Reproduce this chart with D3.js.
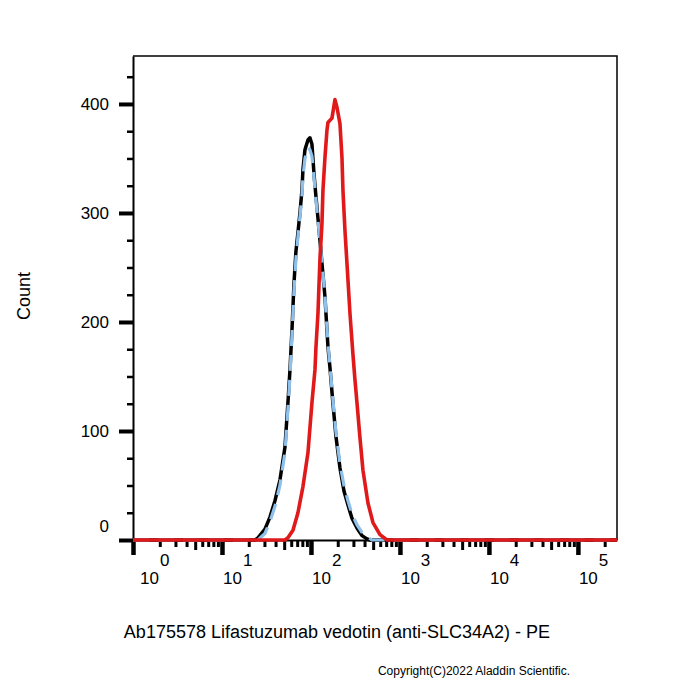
<!DOCTYPE html>
<html>
<head>
<meta charset="utf-8">
<script src="https://cdnjs.cloudflare.com/ajax/libs/d3/7.8.5/d3.min.js"></script>
<style>
  body { margin: 0; background: #fff; }
  text { font-family: "Liberation Sans", Arial, sans-serif; fill: #000; }
</style>
</head>
<body>
<script>
// histogram data: fluorescence intensity (PE) vs count
var blackX = [1, 23.5, 25.4, 30.4, 34.6, 39.4, 44.8, 51.0, 55.1, 58.1, 61.2, 64.4, 67.8, 71.4, 75.2, 79.2, 81.3, 85.6, 92.5, 97.4,
              102.6, 108.1, 113.8, 119.9, 126.2, 132.9, 143.7, 155.3, 163.5, 176.7, 190.9, 211.8, 234.9, 260.5, 288.9, 328.8, 374.2, 425.9, 460.3, 275000];
var blackY = [0, 0, 2, 10, 21, 36, 55, 85, 126, 156, 193, 235, 265, 282, 300, 321, 340, 358, 367, 369,
              363, 336, 315, 295, 275, 254, 223, 177, 158, 125, 95, 66, 45, 32, 20, 11, 4, 1, 0, 0];

var blueX = [1, 25.4, 30.4, 34.6, 39.4, 44.8, 51.0, 55.1, 58.1, 61.2, 64.4, 67.8, 71.4, 75.2, 79.2, 81.3, 85.6, 92.5, 97.4,
             102.6, 108.1, 113.8, 119.9, 126.2, 132.9, 143.7, 155.3, 163.5, 176.7, 190.9, 211.8, 234.9, 260.5, 288.9, 328.8, 374.2, 425.9, 484.6, 275000];
var blueY = [0, 0, 6, 17, 31, 50, 80, 120, 150, 188, 228, 258, 278, 296, 316, 333, 350, 360, 358,
             352, 333, 312, 293, 274, 254, 224, 180, 160, 128, 99, 70, 50, 36, 24, 14, 7, 3, 0, 0];

var redX = [1, 51.0, 55.1, 62.8, 71.4, 81.3, 92.5, 102.6, 110.9, 113.8, 119.9, 126.2, 132.9, 136.4, 143.7, 151.3, 155.3, 172.2, 186.1, 196.0,
            211.8, 223.0, 228.8, 241.0, 253.8, 274.3, 296.5, 312.2, 328.8, 355.3, 384.1, 436.9, 497.4, 596.3, 714.5, 275000];
var redY = [0, 0, 2, 9, 25, 49, 80, 126, 156, 177, 208, 258, 290, 321, 351, 376, 383, 387, 404, 397,
            382, 351, 321, 284, 254, 208, 170, 147, 126, 94, 64, 34, 16, 5, 0, 0];

var yMajor = [0, 100, 200, 300, 400];
var decades = [1, 10, 100, 1000, 10000, 100000];
var decadeExp = ["0", "1", "2", "3", "4", "5"];

var title = "Ab175578 Lifastuzumab vedotin (anti-SLC34A2) - PE";
var copyright = "Copyright(C)2022 Aladdin Scientific.";

var margin = {top: 56, left: 133},
    width = 484,
    height = 484;

var svg = d3.select("body").append("svg")
    .attr("width", 700)
    .attr("height", 700);

var g = svg.append("g")
    .attr("transform", "translate(" + margin.left + "," + margin.top + ")");

var x = d3.scaleLog()
    .domain([1, 275000])
    .range([0, width]);

var y = d3.scaleLinear()
    .domain([0, 444])
    .range([height, 0]);

// minor tick values
var yMinor = d3.range(25, 444, 25).filter(function (d) { return d % 100 !== 0; });
var xMinor = [], xMid = [];
decades.forEach(function (dec) {
  [2, 3, 4, 6, 7, 8, 9].forEach(function (m) { if (dec * m <= 275000) xMinor.push(dec * m); });
  if (dec * 5 <= 275000) xMid.push(dec * 5);
});

// frame (top and right)
g.append("path")
    .attr("d", "M0,0H" + width + "V" + height)
    .attr("fill", "none")
    .attr("stroke", "#000")
    .attr("stroke-width", 1.5);

// y axis
var yAx = g.append("g")
    .call(d3.axisLeft(y).tickValues(yMajor).tickSize(14).tickSizeOuter(0).tickPadding(10));
yAx.select(".domain").attr("stroke-width", 2);
yAx.selectAll(".tick line").attr("stroke-width", 4);
yAx.selectAll(".tick text")
    .style("font-size", "17px")
    .attr("dy", function (d) { return d === 0 ? "-0.5em" : "0.34em"; });

g.append("g")
    .call(d3.axisLeft(y).tickValues(yMinor).tickSize(6).tickSizeOuter(0).tickFormat(""))
    .call(function (s) { s.select(".domain").remove(); })
    .selectAll(".tick line").attr("stroke-width", 2.5);

// x axis
var xAx = g.append("g")
    .attr("transform", "translate(0," + height + ")")
    .call(d3.axisBottom(x).tickValues(decades).tickSize(15).tickSizeOuter(0).tickFormat(""));
xAx.select(".domain").attr("stroke-width", 2);
xAx.selectAll(".tick line").attr("stroke-width", 4.5);

g.append("g")
    .attr("transform", "translate(0," + height + ")")
    .call(d3.axisBottom(x).tickValues(xMinor).tickSize(7).tickSizeOuter(0).tickFormat(""))
    .call(function (s) { s.select(".domain").remove(); })
    .selectAll(".tick line").attr("stroke-width", 3);

g.append("g")
    .attr("transform", "translate(0," + height + ")")
    .call(d3.axisBottom(x).tickValues(xMid).tickSize(10).tickSizeOuter(0).tickFormat(""))
    .call(function (s) { s.select(".domain").remove(); })
    .selectAll(".tick line").attr("stroke-width", 3);

// decade labels 10^n
var lab = g.selectAll(".xlab")
    .data(decades)
    .enter().append("text")
    .attr("class", "xlab")
    .attr("x", function (d, i) { return x(d) + (i === 0 ? 7 : 1); })
    .attr("y", height + 44)
    .style("font-size", "17px");
lab.append("tspan").text("10");
lab.append("tspan")
    .attr("dy", -18)
    .attr("dx", 1)
    .style("font-size", "17px")
    .text(function (d, i) { return decadeExp[i]; });

// curves
var line = d3.line()
    .x(function (d) { return x(d[0]); })
    .y(function (d) { return y(d[1]); });

var black = d3.zip(blackX, blackY),
    blue = d3.zip(blueX, blueY),
    red = d3.zip(redX, redY);

g.append("path")
    .datum(black)
    .attr("fill", "none")
    .attr("stroke", "#000")
    .attr("stroke-width", 3.5)
    .attr("stroke-linejoin", "round")
    .attr("d", line);

g.append("path")
    .datum(blue)
    .attr("fill", "none")
    .attr("stroke", "#8fc0ea")
    .attr("stroke-width", 3.2)
    .attr("stroke-dasharray", "16,9")
    .attr("d", line);

g.append("path")
    .datum(red)
    .attr("fill", "none")
    .attr("stroke", "#e0191b")
    .attr("stroke-width", 3.6)
    .attr("stroke-linejoin", "round")
    .attr("d", line);

// labels
svg.append("text")
    .attr("transform", "translate(30,296) rotate(-90)")
    .attr("text-anchor", "middle")
    .style("font-size", "18px")
    .text("Count");

svg.append("text")
    .attr("x", 337)
    .attr("y", 638)
    .attr("text-anchor", "middle")
    .style("font-size", "18px")
    .text(title);

svg.append("text")
    .attr("x", 570)
    .attr("y", 675)
    .attr("text-anchor", "end")
    .style("font-size", "12px")
    .text(copyright);
</script>
</body>
</html>
